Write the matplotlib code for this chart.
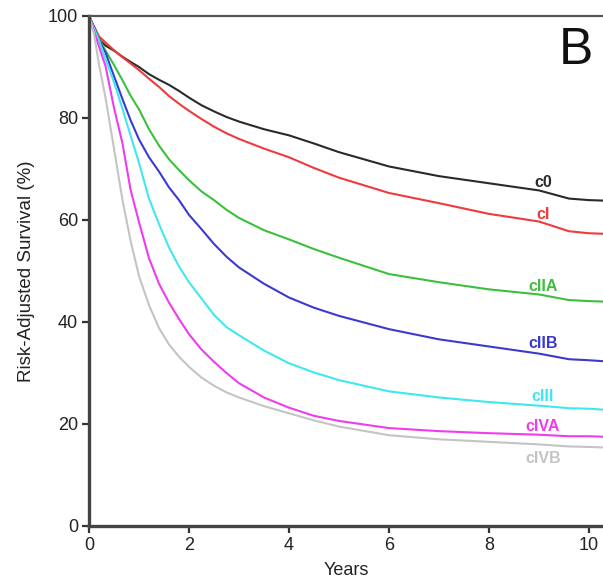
import numpy as np
import matplotlib.pyplot as plt

plt.rcParams['font.family'] = ['Liberation Sans', 'DejaVu Sans']

# survival estimates (%) by clinical stage, sampled on a common time grid
years = [0, 0.1, 0.2, 0.33, 0.5, 0.67, 0.83, 1, 1.2, 1.4, 1.6, 1.8, 2, 2.25, 2.5, 2.75,
         3, 3.5, 4, 4.5, 5, 6, 7, 8, 9, 9.6, 10, 10.3]
stages = ['c0', 'cI', 'cIIA', 'cIIB', 'cIII', 'cIVA', 'cIVB']
c0 = [100, 97.7, 95.4, 94.2, 93.2, 92.0, 91.0, 90.0, 88.6, 87.5, 86.5, 85.3, 84.0, 82.5, 81.3, 80.2,
      79.3, 77.8, 76.6, 75.0, 73.3, 70.5, 68.6, 67.2, 65.8, 64.2, 63.9, 63.8]
c1 = [100, 98.0, 96.0, 94.8, 93.3, 91.9, 90.7, 89.4, 87.7, 86.1, 84.3, 82.8, 81.4, 79.8, 78.3, 77.0,
      75.9, 74.0, 72.3, 70.2, 68.3, 65.3, 63.3, 61.2, 59.7, 57.8, 57.4, 57.3]
c2a = [100, 97.8, 95.5, 93.2, 90.4, 87.4, 84.4, 81.7, 77.8, 74.6, 71.9, 69.8, 67.8, 65.6, 63.9, 62.0,
       60.4, 58.0, 56.2, 54.3, 52.6, 49.4, 47.8, 46.4, 45.4, 44.3, 44.1, 44.0]
c2b = [100, 97.8, 95.3, 92.8, 88.2, 83.7, 79.6, 75.8, 72.3, 69.5, 66.4, 63.9, 61.0, 58.2, 55.3, 52.8,
       50.7, 47.5, 44.8, 42.8, 41.2, 38.6, 36.6, 35.2, 33.8, 32.7, 32.5, 32.3]
c3 = [100, 97.6, 95.2, 91.6, 87.0, 81.8, 76.6, 71.2, 64.2, 59.2, 54.6, 50.9, 47.8, 44.6, 41.4, 39.0,
      37.4, 34.4, 31.9, 30.1, 28.6, 26.4, 25.2, 24.3, 23.6, 23.1, 23.0, 22.8]
c4a = [100, 97.0, 94.0, 90.2, 82.0, 75.0, 66.0, 59.6, 52.5, 47.5, 43.8, 40.6, 37.6, 34.6, 32.2, 30.0,
       28.0, 25.2, 23.2, 21.6, 20.6, 19.2, 18.6, 18.2, 17.9, 17.6, 17.6, 17.5]
c4b = [100, 96.5, 90.5, 84.0, 74.0, 63.9, 56.0, 49.0, 43.3, 38.8, 35.6, 33.2, 31.2, 29.1, 27.5, 26.2,
       25.2, 23.5, 22.1, 20.7, 19.5, 17.8, 17.0, 16.5, 16.0, 15.6, 15.5, 15.4]
colors = ['#2a2a2a', '#ee3b3b', '#3cbf3c', '#3a3ad0', '#3ee8ee', '#ee3cee', '#c4c4c4']
# label anchor (years, %)
label_x = 9.08
label_y = [67.3, 61.0, 46.9, 35.7, 25.3, 19.6, 13.3]

series = [c0, c1, c2a, c2b, c3, c4a, c4b]

fig = plt.figure(figsize=(6.03, 5.88), dpi=100)
ax = fig.add_axes([89 / 603, 62 / 588, 1 - 89 / 603, (526 - 16) / 588])

for name, vals, col, ly in zip(stages, series, colors, label_y):
    ax.plot(years, vals, color=col, lw=1.5)
    ax.text(label_x, ly, name, color=col, fontsize=11.5, fontweight='bold',
            ha='center', va='center')

ax.set_xlim(0, 10.28)
ax.set_ylim(0, 100)
ax.set_xticks(np.arange(0, 11, 2))
ax.set_yticks(np.arange(0, 101, 20))
ax.tick_params(direction='out', length=5, width=1.6, colors='#333333',
               labelsize=13, labelcolor='#222222', pad=3)
ax.set_xlabel('Years', fontsize=13, color='#222222', labelpad=6)
ax.set_ylabel('Risk-Adjusted Survival (%)', fontsize=13.5, color='#222222', labelpad=9)

for side in ['left', 'bottom']:
    ax.spines[side].set_linewidth(2.4)
    ax.spines[side].set_color('#444444')
ax.spines['top'].set_linewidth(1.6)
ax.spines['top'].set_color('#555555')
ax.spines['right'].set_visible(False)

fig.text(576 / 603, 1 - 50 / 588, 'B', fontsize=37, ha='center', va='center', color='#111111')

fig.savefig('out.png', dpi=100)
